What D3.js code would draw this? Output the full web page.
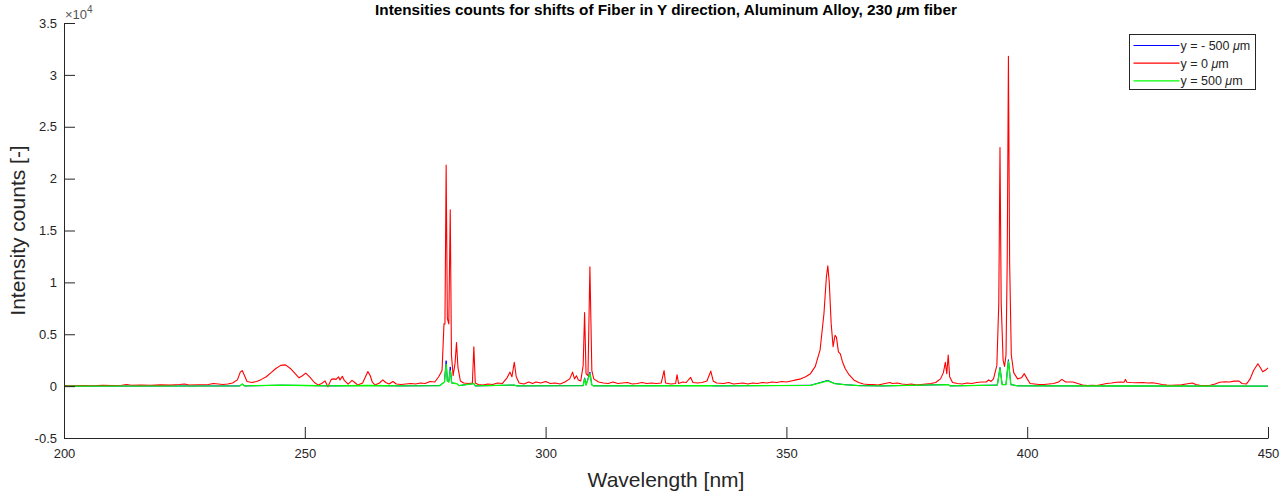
<!DOCTYPE html>
<html>
<head>
<meta charset="utf-8">
<script src="https://cdn.jsdelivr.net/npm/d3@7"></script>
<style>
  body { margin: 0; background: #fff; }
  svg { font-family: "Liberation Sans", Arial, sans-serif; }
</style>
</head>
<body>
<svg></svg>
<script>
// x tick values and y tick values (y in units of 1e4)
const xTicks = [200, 250, 300, 350, 400, 450];
const yTicks = [-0.5, 0, 0.5, 1, 1.5, 2, 2.5, 3, 3.5];

// [wavelength nm, counts]
const redSeries = [
  [200,50],[202,30],[204,60],[206,40],[208,70],[210,60],[212,90],[213,150],[214,80],[216,100],
  [218,90],[220,120],[222,100],[224,150],[225,200],[226,110],[228,130],[230,150],[231,250],[232,200],
  [233,150],[234,200],[235,300],[236,600],[236.6,1350],[237,1500],[237.4,1100],[238,450],[239,350],[240,450],
  [241,650],[242,900],[243,1300],[244,1700],[245,2000],[246,2050],[247,1700],[248,1200],[248.8,800],[249.5,1000],
  [250.2,1250],[251,900],[252,350],[252.8,100],[253.5,250],[254.2,500],[254.8,-50],[255.5,650],[256,700],[256.5,650],
  [257,900],[257.3,600],[257.8,950],[258.2,550],[259,200],[259.8,550],[260.5,300],[261,100],[262,300],[262.6,900],
  [263.1,1400],[263.6,1000],[264,400],[264.6,100],[265.5,300],[266.2,600],[266.8,350],[267.5,200],[268.3,450],[269,200],
  [270,150],[271,200],[272,250],[273,200],[274,300],[275,250],[276,450],[277,400],[277.8,900],[278.5,1500],
  [278.9,6000],[279.1,6000],[279.35,21300],[279.6,6500],[279.9,6000],[280.2,17000],[280.45,3000],[280.8,1000],[281.2,2200],[281.5,4200],
  [281.8,1800],[282.3,500],[283,300],[284,250],[284.8,300],[285.1,3800],[285.4,300],[286,150],[287,100],[288,200],
  [289,150],[290,300],[291,250],[292,800],[292.6,1350],[293,900],[293.5,2300],[293.9,900],[294.5,300],[295.5,200],
  [296.5,400],[297.3,250],[298,400],[299,300],[300,450],[301,250],[302,300],[303,200],[304,400],[305,700],
  [305.6,1350],[306,700],[306.4,1000],[306.8,600],[307.3,500],[307.8,2000],[308.1,7100],[308.4,1200],[308.8,1000],[309.2,11500],
  [309.6,1500],[310,700],[311,400],[312,300],[313,250],[314,400],[315,250],[316,300],[317,350],[318,200],
  [319,250],[320,350],[321,250],[322,300],[323,250],[324,300],[324.6,1500],[324.9,300],[326,200],[327,250],
  [327.3,1100],[327.6,250],[328.5,400],[329.2,350],[330.1,850],[330.6,350],[331.5,300],[332.5,350],[333.5,500],[334.3,1450],
  [334.8,500],[335.5,300],[337,250],[338,350],[339,200],[340,250],[341,300],[342,200],[343,300],[344,250],
  [345,350],[346,300],[347,400],[348,350],[349,450],[350,400],[351,500],[352,600],[353,700],[354,900],
  [355,1200],[356,1900],[357,3500],[357.8,7000],[358.3,10500],[358.6,11600],[358.9,10000],[359.3,6000],[359.7,3800],[360.1,4900],
  [360.4,4700],[360.8,3300],[361.2,3100],[361.6,2400],[362.2,1700],[363,1100],[364,600],[365,350],[366,200],[367,150],
  [368,150],[369,100],[370,200],[371,300],[371.5,350],[372,250],[373,300],[374,200],[375,150],[376,200],
  [377,100],[378,150],[379,200],[380,250],[381,350],[382,700],[382.6,1300],[383,2300],[383.3,1200],[383.6,3000],
  [383.9,900],[384.5,350],[385.5,250],[386.5,200],[387.5,300],[388.5,250],[389.5,350],[390.5,400],[391.5,400],[392,600],
  [392.5,450],[393,700],[393.7,2000],[394.1,8000],[394.35,23000],[394.6,8000],[395,2500],[395.3,1900],[395.6,3000],[395.85,12000],
  [396.1,31800],[396.35,12000],[396.7,3000],[397.2,1300],[398,700],[398.8,800],[399.4,1200],[400,700],[400.6,250],[401.5,200],
  [402.5,150],[403.5,150],[404.5,200],[405.5,250],[406.5,400],[407.2,650],[408,400],[409.5,400],[410.5,250],[411.5,100],
  [412.5,50],[413.5,80],[414.5,60],[415.5,150],[416.5,250],[417.5,300],[418.5,380],[419.5,400],[420.1,380],[420.4,650],
  [420.7,380],[421.5,350],[422.5,330],[424,350],[425,300],[426,320],[427,250],[428,150],[429,100],[430,80],
  [431,100],[432,120],[433,200],[434.3,300],[435,150],[436,60],[437,50],[438,80],[439,200],[440,380],
  [441,420],[442,400],[443,480],[444,480],[444.6,250],[445.5,200],[446.3,700],[447,1500],[447.9,2150],[448.4,1800],
  [448.9,1380],[449.5,1550],[450,1760]
];

const greenSeries = [
  [200,0],[236.5,20],[237,200],[237.5,20],[240,40],[245,90],[250,60],[255,20],[263,60],[270,20],
  [278,50],[279,400],[279.35,2100],[279.6,500],[279.9,400],[280.2,1500],[280.5,300],[281.5,250],[282,50],[285.1,250],
  [285.4,20],[293.5,100],[294,20],[307.8,50],[308.1,700],[308.4,100],[309.2,1200],[309.6,100],[310,30],[334.3,50],
  [335,20],[355,80],[358.6,500],[360,250],[362,150],[365,50],[370,20],[383.6,150],[384,20],[393.8,100],
  [394.35,1700],[394.8,150],[395.6,150],[396.1,2400],[396.6,150],[398,30],[420,10],[450,0]
];

// blue only differs from green at the line tips
const blueSeries = [
  [200,0],[236.5,20],[237,200],[237.5,20],[240,40],[245,90],[250,60],[255,20],[263,60],[270,20],
  [278,50],[279,400],[279.35,2450],[279.6,500],[279.9,400],[280.2,1850],[280.5,300],[281.5,250],[282,50],[285.1,250],
  [285.4,20],[293.5,100],[294,20],[307.8,50],[308.1,800],[308.4,100],[309.2,1350],[309.6,100],[310,30],[334.3,50],
  [335,20],[355,80],[358.6,550],[360,250],[362,150],[365,50],[370,20],[383.6,150],[384,20],[393.8,100],
  [394.35,1800],[394.8,150],[395.6,150],[396.1,2550],[396.6,150],[398,30],[420,10],[450,0]
];

const legendLabels = ["y = - 500 ", "y = 0 ", "y = 500 "];
const seriesColors = ["#0000ff", "#ff0000", "#00ff00"];

const W = 1288, H = 495;
const margin = { top: 23, right: 20, bottom: 57, left: 64 };

const svg = d3.select('svg')
  .attr('width', W)
  .attr('height', H);

const x = d3.scaleLinear().domain([200, 450]).range([margin.left, W - margin.right]);
const y = d3.scaleLinear().domain([-0.5, 3.5]).range([H - margin.bottom, margin.top]);

const line = d3.line()
  .x(d => x(d[0]))
  .y(d => y(d[1] / 1e4));

// draw in the plotting order: blue, red, green
const widths = [1, 1.1, 1.3];
[blueSeries, redSeries, greenSeries].forEach((s, i) => {
  svg.append('path')
    .datum(s)
    .attr('fill', 'none')
    .attr('stroke', seriesColors[i])
    .attr('stroke-width', widths[i])
    .attr('stroke-linejoin', 'round')
    .attr('d', line);
});

const axisColor = '#262626';

const xAxis = d3.axisBottom(x)
  .tickValues(xTicks)
  .tickFormat(d3.format('d'))
  .tickSizeInner(-11)
  .tickSizeOuter(0)
  .tickPadding(11);

const yAxis = d3.axisLeft(y)
  .tickValues(yTicks)
  .tickFormat(d => String(d))
  .tickSizeInner(-11)
  .tickSizeOuter(0)
  .tickPadding(7);

const gx = svg.append('g')
  .attr('transform', `translate(0,${H - margin.bottom})`)
  .call(xAxis);
const gy = svg.append('g')
  .attr('transform', `translate(${margin.left},0)`)
  .call(yAxis);

[gx, gy].forEach(g => {
  g.select('.domain').attr('stroke', axisColor);
  g.selectAll('.tick line').attr('stroke', axisColor);
  g.selectAll('.tick text')
    .attr('fill', axisColor)
    .attr('font-size', 13)
    .attr('font-family', '"Liberation Sans", Arial, sans-serif');
});

// exponent marker
const ex = svg.append('text')
  .attr('x', margin.left + 1)
  .attr('y', 19)
  .attr('font-size', 13)
  .attr('fill', '#555');
ex.append('tspan').text('\u00d710');
ex.append('tspan').attr('font-size', 10).attr('dy', -6).text('4');

// title
const title = svg.append('text')
  .attr('x', (margin.left + W - margin.right) / 2)
  .attr('y', 15)
  .attr('text-anchor', 'middle')
  .attr('font-size', 15.3)
  .attr('font-weight', 'bold')
  .attr('fill', '#000');
title.append('tspan').text('Intensities counts for shifts of Fiber in Y direction, Aluminum Alloy, 230 ');
title.append('tspan').attr('font-style', 'italic').text('\u03bc');
title.append('tspan').text('m fiber');

// axis labels
svg.append('text')
  .attr('x', (margin.left + W - margin.right) / 2)
  .attr('y', 487)
  .attr('text-anchor', 'middle')
  .attr('font-size', 21)
  .attr('fill', axisColor)
  .text('Wavelength [nm]');

svg.append('text')
  .attr('transform', `translate(25,${(margin.top + H - margin.bottom) / 2}) rotate(-90)`)
  .attr('text-anchor', 'middle')
  .attr('font-size', 21)
  .attr('fill', axisColor)
  .text('Intensity counts [-]');

// legend
const lg = svg.append('g').attr('transform', 'translate(1129.5,34.5)');
lg.append('rect')
  .attr('width', 126).attr('height', 55)
  .attr('fill', '#fff')
  .attr('stroke', axisColor)
  .attr('stroke-width', 1);
legendLabels.forEach((lab, i) => {
  const yy = 11 + i * 17.7;
  lg.append('line')
    .attr('x1', 4).attr('x2', 50)
    .attr('y1', yy).attr('y2', yy)
    .attr('stroke', seriesColors[i]).attr('stroke-width', 1.2);
  const t = lg.append('text')
    .attr('x', 51).attr('y', yy + 4.5)
    .attr('font-size', 12.5)
    .attr('fill', axisColor);
  t.append('tspan').text(lab);
  t.append('tspan').attr('font-style', 'italic').text('\u03bc');
  t.append('tspan').text('m');
});
</script>
</body>
</html>
